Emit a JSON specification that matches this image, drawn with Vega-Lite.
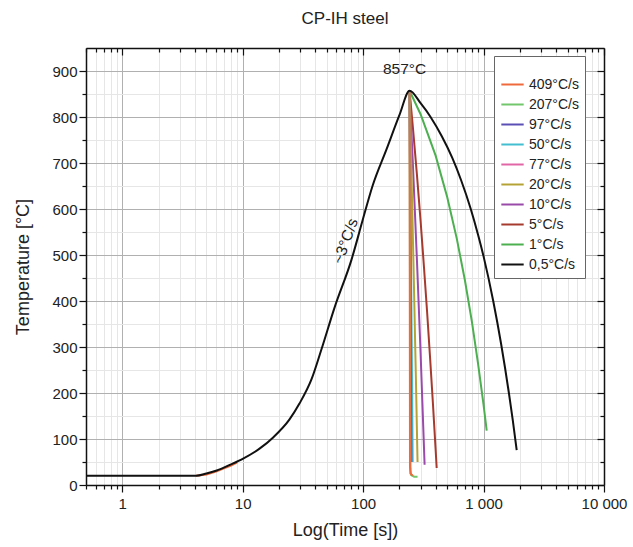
{
  "$schema": "https://vega.github.io/schema/vega-lite/v6.json",
  "width": 518,
  "height": 437,
  "autosize": "none",
  "padding": {"left": 86, "top": 48, "right": 29, "bottom": 62},
  "background": "white",
  "title": {"text": "CP-IH steel", "fontSize": 17, "fontWeight": "normal", "font": "Liberation Sans", "color": "#222", "offset": 19},
  "config": {"view": {"stroke": null}, "font": "Liberation Sans"},
  "data": {"values": [
    {"s": "0,5°C/s", "g": "h", "t": 0.5, "T": 20},
    {"s": "0,5°C/s", "g": "h", "t": 1, "T": 20},
    {"s": "0,5°C/s", "g": "h", "t": 2, "T": 20},
    {"s": "0,5°C/s", "g": "h", "t": 4.1, "T": 20},
    {"s": "0,5°C/s", "g": "h", "t": 5, "T": 25},
    {"s": "0,5°C/s", "g": "h", "t": 6, "T": 31},
    {"s": "0,5°C/s", "g": "h", "t": 8, "T": 45},
    {"s": "0,5°C/s", "g": "h", "t": 10, "T": 57},
    {"s": "0,5°C/s", "g": "h", "t": 13.8, "T": 79},
    {"s": "0,5°C/s", "g": "h", "t": 18, "T": 104},
    {"s": "0,5°C/s", "g": "h", "t": 24.4, "T": 142},
    {"s": "0,5°C/s", "g": "h", "t": 29.6, "T": 177},
    {"s": "0,5°C/s", "g": "h", "t": 37.3, "T": 230},
    {"s": "0,5°C/s", "g": "h", "t": 45.1, "T": 295},
    {"s": "0,5°C/s", "g": "h", "t": 57.8, "T": 385},
    {"s": "0,5°C/s", "g": "h", "t": 80.1, "T": 490},
    {"s": "0,5°C/s", "g": "h", "t": 98.9, "T": 575},
    {"s": "0,5°C/s", "g": "h", "t": 119.7, "T": 650},
    {"s": "0,5°C/s", "g": "h", "t": 156.6, "T": 730},
    {"s": "0,5°C/s", "g": "h", "t": 200.8, "T": 805},
    {"s": "0,5°C/s", "g": "h", "t": 243, "T": 857},
    {"s": "0,5°C/s", "g": "h", "t": 300, "T": 830},
    {"s": "0,5°C/s", "g": "h", "t": 363, "T": 800},
    {"s": "0,5°C/s", "g": "h", "t": 450, "T": 758},
    {"s": "0,5°C/s", "g": "h", "t": 550, "T": 711},
    {"s": "0,5°C/s", "g": "h", "t": 650, "T": 663},
    {"s": "0,5°C/s", "g": "h", "t": 783, "T": 600},
    {"s": "0,5°C/s", "g": "h", "t": 900, "T": 544},
    {"s": "0,5°C/s", "g": "h", "t": 1000, "T": 497},
    {"s": "0,5°C/s", "g": "h", "t": 1203, "T": 400},
    {"s": "0,5°C/s", "g": "h", "t": 1400, "T": 306},
    {"s": "0,5°C/s", "g": "h", "t": 1623, "T": 200},
    {"s": "0,5°C/s", "g": "h", "t": 1750, "T": 140},
    {"s": "0,5°C/s", "g": "h", "t": 1884, "T": 76},

    {"s": "1°C/s", "g": "c", "t": 243, "T": 857},
    {"s": "1°C/s", "g": "c", "t": 300, "T": 806},
    {"s": "1°C/s", "g": "c", "t": 400, "T": 716},
    {"s": "1°C/s", "g": "c", "t": 500, "T": 625},
    {"s": "1°C/s", "g": "c", "t": 600, "T": 535},
    {"s": "1°C/s", "g": "c", "t": 700, "T": 445},
    {"s": "1°C/s", "g": "c", "t": 800, "T": 355},
    {"s": "1°C/s", "g": "c", "t": 900, "T": 264},
    {"s": "1°C/s", "g": "c", "t": 1000, "T": 174},
    {"s": "1°C/s", "g": "c", "t": 1062, "T": 118},

    {"s": "5°C/s", "g": "c", "t": 243, "T": 857},
    {"s": "5°C/s", "g": "c", "t": 260, "T": 772},
    {"s": "5°C/s", "g": "c", "t": 280, "T": 673},
    {"s": "5°C/s", "g": "c", "t": 300, "T": 574},
    {"s": "5°C/s", "g": "c", "t": 320, "T": 474},
    {"s": "5°C/s", "g": "c", "t": 340, "T": 375},
    {"s": "5°C/s", "g": "c", "t": 360, "T": 275},
    {"s": "5°C/s", "g": "c", "t": 380, "T": 176},
    {"s": "5°C/s", "g": "c", "t": 400, "T": 77},
    {"s": "5°C/s", "g": "c", "t": 408, "T": 37},

    {"s": "10°C/s", "g": "c", "t": 243, "T": 857},
    {"s": "10°C/s", "g": "c", "t": 260, "T": 687},
    {"s": "10°C/s", "g": "c", "t": 280, "T": 487},
    {"s": "10°C/s", "g": "c", "t": 300, "T": 287},
    {"s": "10°C/s", "g": "c", "t": 324, "T": 44},

    {"s": "20°C/s", "g": "c", "t": 243, "T": 857},
    {"s": "20°C/s", "g": "c", "t": 255, "T": 617},
    {"s": "20°C/s", "g": "c", "t": 265, "T": 417},
    {"s": "20°C/s", "g": "c", "t": 275, "T": 217},
    {"s": "20°C/s", "g": "c", "t": 283, "T": 50},

    {"s": "77°C/s", "g": "c", "t": 243, "T": 857},
    {"s": "77°C/s", "g": "c", "t": 248, "T": 472},
    {"s": "77°C/s", "g": "c", "t": 253.5, "T": 50},

    {"s": "50°C/s", "g": "c", "t": 243, "T": 857},
    {"s": "50°C/s", "g": "c", "t": 248, "T": 587},
    {"s": "50°C/s", "g": "c", "t": 253, "T": 317},
    {"s": "50°C/s", "g": "c", "t": 258, "T": 50},

    {"s": "97°C/s", "g": "c", "t": 243, "T": 857},
    {"s": "97°C/s", "g": "c", "t": 247, "T": 469},
    {"s": "97°C/s", "g": "c", "t": 251.3, "T": 50},

    {"s": "207°C/s", "g": "c", "t": 243, "T": 857},
    {"s": "207°C/s", "g": "c", "t": 246.5, "T": 130},
    {"s": "207°C/s", "g": "c", "t": 247.5, "T": 35},
    {"s": "207°C/s", "g": "c", "t": 250, "T": 22},
    {"s": "207°C/s", "g": "c", "t": 265, "T": 18},
    {"s": "207°C/s", "g": "c", "t": 283, "T": 18},

    {"s": "409°C/s", "g": "h", "t": 4.1, "T": 20},
    {"s": "409°C/s", "g": "h", "t": 5, "T": 23},
    {"s": "409°C/s", "g": "h", "t": 6, "T": 29},
    {"s": "409°C/s", "g": "h", "t": 7, "T": 36},
    {"s": "409°C/s", "g": "h", "t": 8, "T": 42},
    {"s": "409°C/s", "g": "h", "t": 9, "T": 49},
    {"s": "409°C/s", "g": "c", "t": 243, "T": 857},
    {"s": "409°C/s", "g": "c", "t": 245, "T": 40},
    {"s": "409°C/s", "g": "c", "t": 247, "T": 25},
    {"s": "409°C/s", "g": "c", "t": 258, "T": 20}
  ]},
  "resolve": {"axis": {"x": "independent", "y": "independent"}},
  "layer": [
    {
      "transform": [{"filter": "datum.s != '0,5°C/s'"}],
      "mark": {"type": "line", "strokeWidth": 2, "clip": true},
      "encoding": {
        "x": {"field": "t", "type": "quantitative",
          "scale": {"type": "log", "domain": [0.5, 10000], "nice": false},
          "axis": {"orient": "bottom",
            "values": [0.5,0.6,0.7,0.8,0.9,1,2,3,4,5,6,7,8,9,10,20,30,40,50,60,70,80,90,100,200,300,400,500,600,700,800,900,1000,2000,3000,4000,5000,6000,7000,8000,9000,10000],
            "labelExpr": "indexof([1,10,100,1000,10000], datum.value) >= 0 ? replace(format(datum.value, ','), ',', ' ') : ''",
            "grid": true,
            "gridColor": {"condition": {"test": "indexof([1,10,100,1000,10000], datum.value) >= 0", "value": "#b0b0b0"}, "value": "#e6e6e6"},
            "gridWidth": 1,
            "tickSize": {"condition": {"test": "indexof([1,10,100,1000,10000], datum.value) >= 0", "value": 7}, "value": 4},
            "tickColor": "#111", "tickWidth": 1.2,
            "domainColor": "#111", "domainWidth": 1.5,
            "labelFontSize": 15, "labelColor": "#222", "labelFont": "Liberation Sans",
            "labelPadding": 4, "labelFlush": false, "labelOverlap": false,
            "title": "Log(Time [s])", "titleFontSize": 18, "titleFontWeight": "normal", "titleColor": "#222", "titleFont": "Liberation Sans", "titlePadding": 10}},
        "y": {"field": "T", "type": "quantitative",
          "scale": {"domain": [0, 950], "nice": false},
          "axis": {"orient": "left",
            "values": [0,50,100,150,200,250,300,350,400,450,500,550,600,650,700,750,800,850,900],
            "labelExpr": "datum.value % 100 == 0 ? datum.label : ''",
            "grid": true,
            "gridColor": {"condition": {"test": "datum.value % 100 == 0", "value": "#b0b0b0"}, "value": "#e6e6e6"},
            "tickSize": {"condition": {"test": "datum.value % 100 == 0", "value": 7}, "value": 4},
            "tickColor": "#111", "tickWidth": 1.2,
            "domainColor": "#111", "domainWidth": 1.5,
            "labelFontSize": 15, "labelColor": "#222", "labelFont": "Liberation Sans", "labelPadding": 2,
            "title": "Temperature [°C]", "titleFontSize": 18, "titleFontWeight": "normal", "titleColor": "#222", "titleFont": "Liberation Sans", "titlePadding": 19}},
        "color": {"field": "s", "type": "nominal",
          "scale": {"domain": ["409°C/s","207°C/s","97°C/s","50°C/s","77°C/s","20°C/s","10°C/s","5°C/s","1°C/s","0,5°C/s"],
                    "range": ["#ee6a3c","#72c66c","#5a4fb5","#42bed0","#e066a6","#b5a236","#9a4aa8","#a63a2e","#4caf50","#111111"]},
          "legend": {"orient": "none", "legendX": 408, "legendY": 8, "title": " ",
            "titleFontSize": 10, "titlePadding": 0,
            "fillColor": "white", "strokeColor": "#666", "padding": 6,
            "labelFontSize": 14, "labelFont": "Liberation Sans", "labelColor": "#222",
            "symbolType": "stroke", "symbolStrokeWidth": 2, "symbolSize": 500, "rowPadding": 0, "labelOffset": 4}},
        "detail": {"field": "g"}
      }
    },
    {
      "transform": [{"filter": "datum.s == '0,5°C/s'"}],
      "mark": {"type": "line", "strokeWidth": 2, "clip": true, "interpolate": "monotone"},
      "encoding": {
        "x": {"field": "t", "type": "quantitative",
          "scale": {"type": "log", "domain": [0.5, 10000], "nice": false},
          "axis": {"orient": "top",
            "values": [0.5,0.6,0.7,0.8,0.9,1,2,3,4,5,6,7,8,9,10,20,30,40,50,60,70,80,90,100,200,300,400,500,600,700,800,900,1000,2000,3000,4000,5000,6000,7000,8000,9000,10000],
            "labels": false, "grid": false, "title": null,
            "tickSize": {"condition": {"test": "indexof([1,10,100,1000,10000], datum.value) >= 0", "value": -7}, "value": -4},
            "tickColor": "#111", "tickWidth": 1.2,
            "domainColor": "#111", "domainWidth": 1.5}},
        "y": {"field": "T", "type": "quantitative",
          "scale": {"domain": [0, 950], "nice": false},
          "axis": {"orient": "right",
            "values": [0,50,100,150,200,250,300,350,400,450,500,550,600,650,700,750,800,850,900],
            "labels": false, "grid": false, "title": null,
            "tickSize": {"condition": {"test": "datum.value % 100 == 0", "value": -7}, "value": -4},
            "tickColor": "#111", "tickWidth": 1.2,
            "domainColor": "#111", "domainWidth": 1.5}},
        "color": {"field": "s", "type": "nominal",
          "scale": {"domain": ["409°C/s","207°C/s","97°C/s","50°C/s","77°C/s","20°C/s","10°C/s","5°C/s","1°C/s","0,5°C/s"],
                    "range": ["#ee6a3c","#72c66c","#5a4fb5","#42bed0","#e066a6","#b5a236","#9a4aa8","#a63a2e","#4caf50","#111111"]}},
        "detail": {"field": "g"}
      }
    },
    {
      "data": {"values": [{"t": 221, "T": 904, "label": "857°C"}]},
      "mark": {"type": "text", "fontSize": 15.5, "font": "Liberation Sans", "color": "#222"},
      "encoding": {
        "x": {"field": "t", "type": "quantitative", "axis": null},
        "y": {"field": "T", "type": "quantitative", "axis": null},
        "text": {"field": "label"}
      }
    },
    {
      "data": {"values": [{"t": 71.4, "T": 530, "label": "~3°C/s"}]},
      "mark": {"type": "text", "fontSize": 15.5, "font": "Liberation Sans", "color": "#222", "angle": -70},
      "encoding": {
        "x": {"field": "t", "type": "quantitative", "axis": null},
        "y": {"field": "T", "type": "quantitative", "axis": null},
        "text": {"field": "label"}
      }
    }
  ]
}
